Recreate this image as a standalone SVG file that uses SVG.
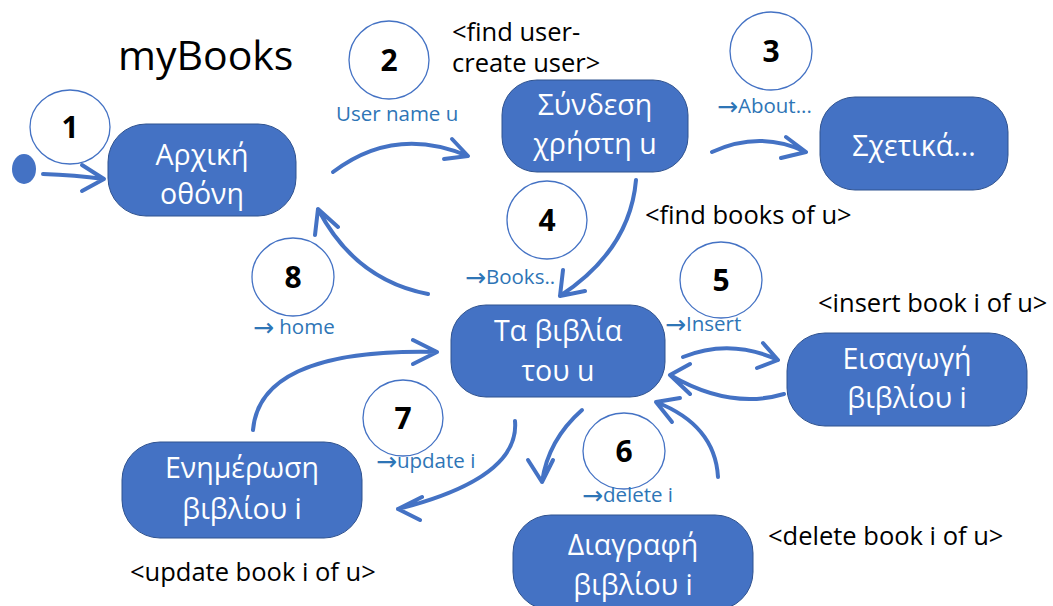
<svg xmlns="http://www.w3.org/2000/svg" width="1053" height="606" viewBox="0 0 1053 606">
  <defs>
    <style>
      .node rect { fill: #4472C4; stroke: #2F528F; stroke-width: 1; }
      .node text { fill: #FFFFFF; font-family: "Open Sans", "Noto Sans", sans-serif; font-size: 28.5px; text-anchor: middle; }
      .step ellipse { fill: #FFFFFF; stroke: #4472C4; stroke-width: 1.3; }
      .step text { fill: #000000; font-family: "Open Sans", "Liberation Sans", sans-serif; font-size: 30px; font-weight: bold; text-anchor: middle; }
      .edge { fill: none; stroke: #4472C4; stroke-width: 4; stroke-linecap: round; stroke-linejoin: round; }
      .lbl { fill: #2E75B6; font-family: "Open Sans", "Liberation Sans", sans-serif; font-size: 20.5px; }
      .arr { font-family: "DejaVu Sans", sans-serif; font-size: 25px; }
      .note { fill: #000000; font-family: "Open Sans", "Liberation Sans", sans-serif; font-size: 25.5px; }
    </style>
  </defs>
  <rect width="1053" height="606" fill="#FFFFFF"/>

  <text x="118" y="70" font-family="Open Sans, Liberation Sans, sans-serif" font-size="41" fill="#000">myBooks</text>

  <!-- start marker -->
  <ellipse id="start" cx="24" cy="169" rx="12" ry="15" fill="#4472C4"/>

  <!-- connectors -->
  <g id="connectors">
    <path class="edge" d="M43 174 Q75 175 104 179 M82 165 L104 179 L82 191"/>
    <path class="edge" d="M333 172 Q395 125 468 156 M452 139 L468 156 L444 159"/>
    <path class="edge" d="M712 152 Q760 130 806 152 M786 137 L806 152 L781 158"/>
    <path class="edge" d="M636 180 Q630 250 560 296 M563 270 L560 296 L585 291"/>
    <path class="edge" d="M428 294 Q355 280 318 209 M315 235 L318 209 L338 227"/>
    <path class="edge" d="M683 357 Q730 338 778 360 M763 343 L778 360 L757 368"/>
    <path class="edge" d="M784 394 Q730 410 670 375 M690 364 L670 375 L690 394"/>
    <path class="edge" d="M253 430 Q260 348 437 352 M413 340 L437 352 L413 364"/>
    <path class="edge" d="M515 421 Q520 478 398 509 M422 497 L398 509 L420 520"/>
    <path class="edge" d="M582 410 Q548 440 542 482 M528 460 L542 482 L553 460"/>
    <path class="edge" d="M718 477 Q715 425 656 402 M680 398 L656 402 L672 422"/>
  </g>

  <!-- nodes -->
  <g id="node-home" class="node">
    <rect x="108" y="124" width="188" height="92" rx="38"/>
    <text x="202" y="165">Αρχική</text>
    <text x="202" y="204">οθόνη</text>
  </g>
  <g id="node-login" class="node">
    <rect x="502" y="80" width="186" height="92" rx="35"/>
    <text x="595" y="115">Σύνδεση</text>
    <text x="595" y="154">χρήστη u</text>
  </g>
  <g id="node-about" class="node">
    <rect x="820" y="97" width="188" height="93" rx="35"/>
    <text x="914" y="156">Σχετικά...</text>
  </g>
  <g id="node-books" class="node">
    <rect x="451" y="305" width="214" height="92" rx="35"/>
    <text x="558" y="341">Τα βιβλία</text>
    <text x="558" y="381">του u</text>
  </g>
  <g id="node-insert" class="node">
    <rect x="787" y="333" width="240" height="93" rx="38"/>
    <text x="907" y="369">Εισαγωγή</text>
    <text x="907" y="408">βιβλίου i</text>
  </g>
  <g id="node-update" class="node">
    <rect x="122" y="442" width="240" height="96" rx="38"/>
    <text x="242" y="478">Ενημέρωση</text>
    <text x="242" y="519">βιβλίου i</text>
  </g>
  <g id="node-delete" class="node">
    <rect x="513" y="515" width="240" height="95" rx="38"/>
    <text x="633" y="555">Διαγραφή</text>
    <text x="633" y="595">βιβλίου i</text>
  </g>

  <!-- numbered steps -->
  <g id="step-1" class="step"><ellipse cx="70" cy="127" rx="40" ry="37"/><text x="70" y="138">1</text></g>
  <g id="step-2" class="step"><ellipse cx="389" cy="60" rx="40" ry="39"/><text x="389" y="71">2</text></g>
  <g id="step-3" class="step"><ellipse cx="771" cy="51" rx="41" ry="39"/><text x="771" y="62">3</text></g>
  <g id="step-4" class="step"><ellipse cx="547" cy="220" rx="40" ry="39"/><text x="547" y="231">4</text></g>
  <g id="step-5" class="step"><ellipse cx="721" cy="280" rx="41" ry="38"/><text x="721" y="291">5</text></g>
  <g id="step-6" class="step"><ellipse cx="624" cy="451" rx="41" ry="38"/><text x="624" y="462">6</text></g>
  <g id="step-7" class="step"><ellipse cx="403" cy="418" rx="40" ry="38"/><text x="403" y="429">7</text></g>
  <g id="step-8" class="step"><ellipse cx="293" cy="277" rx="41" ry="39"/><text x="293" y="288">8</text></g>

  <!-- edge labels -->
  <text class="lbl" x="336" y="121">User name u</text>
  <text class="lbl" x="717" y="113"><tspan class="arr" dy="2">→</tspan><tspan dy="-2">About...</tspan></text>
  <text class="lbl" x="465" y="284"><tspan class="arr" dy="2">→</tspan><tspan dy="-2">Books..</tspan></text>
  <text class="lbl" x="253" y="334"><tspan class="arr" dy="2">→</tspan><tspan dy="-2"> home</tspan></text>
  <text class="lbl" x="665" y="331"><tspan class="arr" dy="2">→</tspan><tspan dy="-2">Insert</tspan></text>
  <text class="lbl" x="376" y="468"><tspan class="arr" dy="2">→</tspan><tspan dy="-2">update i</tspan></text>
  <text class="lbl" x="582" y="502"><tspan class="arr" dy="2">→</tspan><tspan dy="-2">delete i</tspan></text>

  <!-- server calls -->
  <text class="note" x="452" y="41">&lt;find user-</text>
  <text class="note" x="452" y="72">create user&gt;</text>
  <text class="note" x="645" y="224">&lt;find books of u&gt;</text>
  <text class="note" x="818" y="312">&lt;insert book i of u&gt;</text>
  <text class="note" x="768" y="545">&lt;delete book i of u&gt;</text>
  <text class="note" x="130" y="581">&lt;update book i of u&gt;</text>
</svg>
